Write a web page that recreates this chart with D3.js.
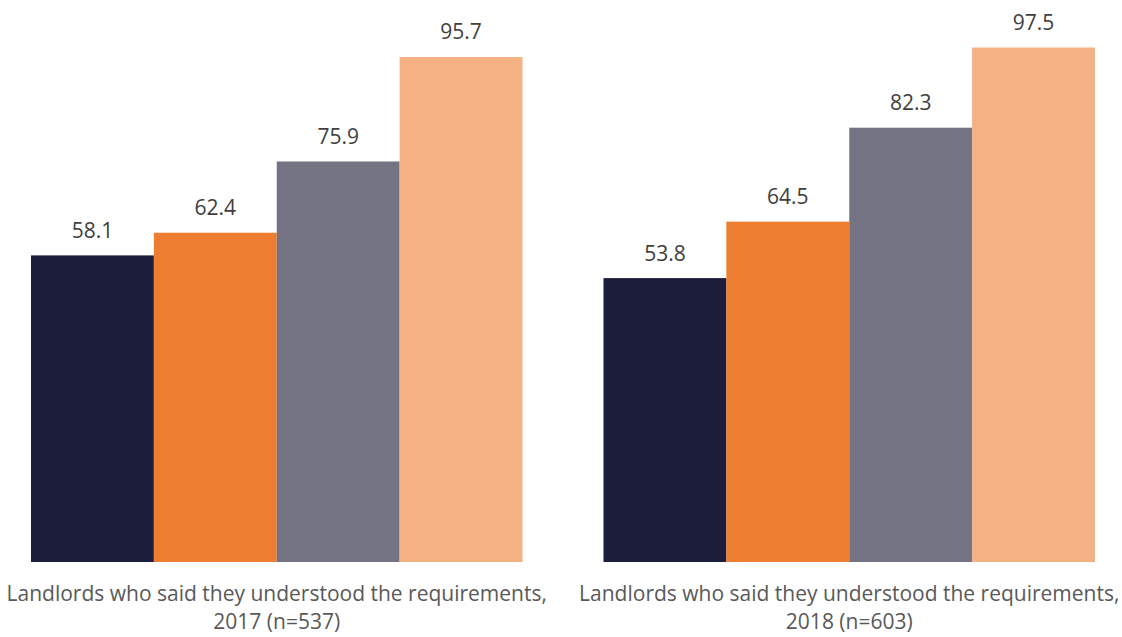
<!DOCTYPE html>
<html>
<head>
<meta charset="utf-8">
<script src="https://cdn.jsdelivr.net/npm/d3@7"></script>
<style>
  html, body { margin: 0; padding: 0; background: #ffffff; }
  svg { display: block; font-family: "Open Sans", "Noto Sans", sans-serif; }
</style>
</head>
<body>
<svg id="chart" width="1122" height="637"></svg>
<script>
// Groups (one per survey year) and their two-line captions
const groups = ["2017", "2018"];
const groupLines = [
  ["Landlords who said they understood the requirements,", "2017 (n=537)"],
  ["Landlords who said they understood the requirements,", "2018 (n=603)"]
];

// Four series drawn within each group
const seriesKeys = ["s1", "s2", "s3", "s4"];
const seriesColors = ["#1c1c3b", "#ed7d31", "#737384", "#f4b183"];

// Values per series, in group order
const s1 = [58.1, 53.8];
const s2 = [62.4, 64.5];
const s3 = [75.9, 82.3];
const s4 = [95.7, 97.5];
const seriesValues = [s1, s2, s3, s4];

const svg = d3.select("#chart");

const baseline = 562;
const x0 = d3.scaleBand()
  .domain(groups)
  .range([31, 1095])
  .paddingInner(0.1415)
  .paddingOuter(0);

const x1 = d3.scaleBand()
  .domain(seriesKeys)
  .range([0, x0.bandwidth()])
  .padding(0);

const y = d3.scaleLinear()
  .domain([0, 100])
  .range([baseline, 34.3]);

const color = d3.scaleOrdinal().domain(seriesKeys).range(seriesColors);

const rows = [];
groups.forEach((g, gi) => {
  seriesKeys.forEach((k, si) => {
    rows.push({ group: g, key: k, value: seriesValues[si][gi] });
  });
});

const g = svg.append("g");

g.selectAll("rect.bar")
  .data(rows)
  .join("rect")
  .attr("class", "bar")
  .attr("x", d => x0(d.group) + x1(d.key))
  .attr("y", d => y(d.value))
  .attr("width", x1.bandwidth())
  .attr("height", d => baseline - y(d.value))
  .attr("fill", d => color(d.key));

g.selectAll("text.value")
  .data(rows)
  .join("text")
  .attr("class", "value")
  .attr("x", d => x0(d.group) + x1(d.key) + x1.bandwidth() / 2)
  .attr("y", d => y(d.value) - 17.5)
  .attr("text-anchor", "middle")
  .attr("font-size", 21)
  .attr("fill", "#404040")
  .text(d => d.value.toFixed(1));

// Group captions below the baseline
const cap = g.selectAll("text.caption")
  .data(groups)
  .join("text")
  .attr("class", "caption")
  .attr("text-anchor", "middle")
  .attr("font-size", 21)
  .attr("fill", "#595959");

cap.each(function (d, i) {
  const t = d3.select(this);
  const cx = x0(d) + x0.bandwidth() / 2;
  groupLines[i].forEach((line, li) => {
    t.append("tspan")
      .attr("x", cx)
      .attr("y", 601 + li * 28)
      .text(line);
  });
});
</script>
</body>
</html>
